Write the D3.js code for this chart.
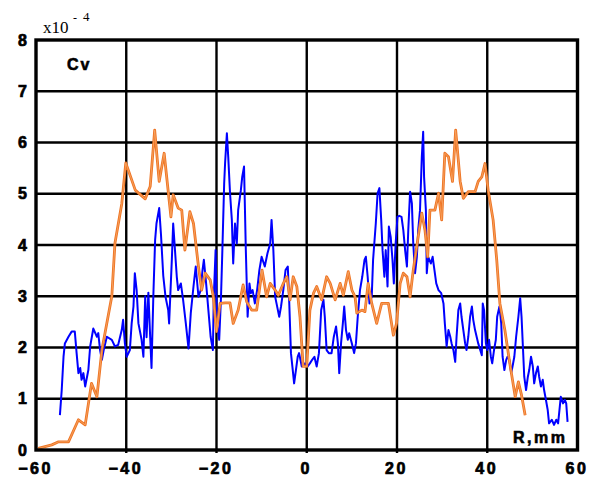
<!DOCTYPE html>
<html><head><meta charset="utf-8">
<script src="https://cdn.jsdelivr.net/npm/d3@7"></script>
<style>html,body{margin:0;padding:0;background:#fff;}svg{display:block;}</style>
</head><body>
<script>
// ---- data ----
const xTicks = [-60,-40,-20,0,20,40,60];
const yTicks = [0,1,2,3,4,5,6,7,8];

const blueR = [-54.7,-54.3,-53.9,-53.6,-52.8,-52.1,-51.4,-51.0,-50.6,-50.2,-49.9,-49.5,-49.1,-48.4,-48.0,-47.3,-46.5,-46.2,-45.8,-45.4,-45.0,-44.3,-43.2,-42.5,-41.8,-41.0,-40.7,-40.3,-39.9,-39.2,-38.8,-38.4,-38.1,-37.7,-37.3,-36.6,-36.2,-35.8,-35.5,-35.1,-34.7,-34.4,-34.0,-33.6,-33.3,-32.7,-32.3,-31.8,-31.3,-30.7,-30.5,-29.9,-29.6,-29.2,-28.8,-28.5,-27.9,-27.4,-26.8,-26.2,-25.7,-25.1,-24.6,-24.0,-23.5,-23.1,-22.8,-22.3,-21.8,-21.3,-20.8,-20.6,-20.2,-19.9,-19.4,-19.0,-18.7,-18.3,-18.1,-17.7,-17.4,-17.0,-16.6,-16.3,-15.9,-15.5,-15.2,-14.6,-14.3,-13.9,-13.5,-13.1,-12.7,-12.4,-12.0,-11.5,-11.0,-10.5,-10.0,-9.3,-8.7,-8.1,-7.8,-7.4,-7.0,-6.7,-6.1,-5.7,-5.2,-4.7,-4.2,-3.9,-3.5,-3.1,-2.8,-2.4,-2.0,-1.7,-1.1,-0.4,0.2,0.7,1.2,1.7,2.2,2.7,3.2,3.7,4.0,4.4,4.9,5.5,6.0,6.5,6.9,7.2,7.6,8.0,8.3,8.7,9.1,9.4,10.0,10.5,10.9,11.3,11.8,12.3,12.8,13.1,13.5,13.9,14.4,14.7,15.3,15.7,16.1,16.5,16.8,17.2,17.5,17.9,18.2,18.6,19.0,19.3,19.7,20.1,20.5,21.0,21.4,21.8,22.2,22.5,22.9,23.3,23.6,24.0,24.4,24.7,25.1,25.5,25.8,26.0,26.4,26.6,26.9,27.5,27.9,28.3,28.7,29.2,29.8,30.3,30.6,31.0,31.4,31.8,32.1,32.5,32.9,33.2,33.6,34.0,34.3,34.7,35.1,35.4,35.8,36.2,36.6,36.9,37.3,38.0,38.8,39.0,39.3,39.7,40.0,40.4,40.8,41.1,41.5,41.9,42.2,42.7,43.1,43.4,43.8,44.2,44.5,44.9,45.3,45.6,46.0,46.4,46.9,47.3,47.6,47.9,48.2,48.6,49.0,49.3,49.7,50.1,50.4,50.8,51.2,51.5,51.9,52.3,52.6,53.0,53.4,53.7,54.3,54.8,55.3,55.7,56.0,56.3,56.8,57.2,57.5,57.8];
const blueV = [0.68,1.17,1.82,2.08,2.21,2.31,2.31,1.89,1.5,1.6,1.37,1.5,1.24,1.56,2.02,2.37,2.21,2.28,1.95,1.76,1.95,2.21,2.15,2.02,2.05,2.34,2.54,2.08,1.82,1.95,2.47,2.8,3.45,3.12,2.47,2.15,1.82,3.0,2.2,3.07,2.21,1.6,3.0,4.1,4.42,4.72,4.2,3.4,2.99,2.73,2.47,3.71,4.42,3.9,3.38,3.12,3.25,2.93,2.47,1.98,2.67,3.19,3.58,2.99,3.12,3.51,3.71,3.25,2.73,2.21,1.95,2.99,3.9,2.47,2.15,2.99,3.9,5.2,5.59,6.18,5.72,5.01,4.49,3.64,4.42,4.03,4.68,5.07,5.33,5.53,3.9,2.6,3.25,3.06,3.12,2.86,3.12,3.51,3.77,3.58,3.84,4.03,4.49,3.9,2.99,2.86,2.6,2.8,3.12,3.51,3.58,2.93,1.89,1.56,1.3,1.56,1.82,1.89,1.63,1.69,1.63,1.69,1.76,1.82,1.63,1.89,2.73,2.93,2.6,1.95,1.89,1.89,2.21,2.41,2.08,1.5,2.08,2.47,2.8,2.34,2.15,2.28,2.08,1.89,2.08,2.6,3.12,3.38,3.71,3.77,3.38,2.86,2.99,3.71,4.42,5.01,5.11,4.49,3.9,3.38,3.9,3.19,4.36,4.16,3.71,3.25,4.03,4.55,4.57,4.55,4.29,3.9,3.58,4.29,5.04,4.81,4.03,3.45,3.77,4.29,4.68,5.72,6.21,5.33,4.68,3.45,3.77,3.64,3.77,3.51,3.25,3.12,3.06,2.86,2.47,2.02,2.34,2.21,2.08,1.95,1.72,2.21,2.73,2.86,2.6,2.34,2.08,1.95,2.21,2.6,2.8,2.54,2.34,2.08,1.85,2.86,2.73,2.08,1.95,2.15,1.82,1.69,1.95,2.15,2.6,2.8,2.47,1.82,1.56,1.76,1.82,1.76,1.5,1.63,1.82,2.21,2.6,2.96,2.6,2.02,1.43,1.17,1.43,1.56,1.82,1.63,1.3,1.5,1.63,1.43,1.24,1.37,1.17,0.98,0.78,0.52,0.59,0.49,0.59,0.52,0.78,1.04,0.91,0.98,0.91,0.55];

const orangeR = [-59.5,-56.5,-55.0,-52.8,-50.6,-49.1,-47.7,-46.5,-45.4,-43.2,-42.5,-41.0,-40.1,-38.0,-35.8,-34.7,-33.7,-32.7,-31.6,-30.1,-29.6,-28.5,-27.7,-27.0,-25.9,-25.1,-24.0,-23.3,-22.5,-21.4,-20.7,-20.0,-19.2,-18.1,-17.0,-16.3,-15.2,-14.1,-13.3,-12.2,-11.1,-10.7,-9.9,-8.9,-8.1,-7.0,-6.3,-5.2,-4.4,-3.7,-3.0,-2.2,-1.5,-0.8,0.0,0.7,1.5,2.2,3.3,4.4,5.2,6.3,7.4,8.1,9.2,10.0,10.7,11.1,12.2,12.9,13.6,14.4,15.5,16.6,18.1,19.2,19.9,20.7,21.4,22.2,22.9,23.6,24.7,25.5,26.2,26.8,27.3,28.4,29.2,29.9,30.6,31.4,32.3,33.0,34.0,34.7,35.8,37.3,38.0,38.8,39.5,40.2,41.3,42.1,42.8,43.9,45.0,46.2,46.9,47.6,48.4];
const orangeV = [0.03,0.1,0.16,0.16,0.59,0.49,1.3,1.04,1.95,3.0,4.04,4.8,5.6,5.07,4.9,5.14,6.24,5.24,5.79,4.55,4.98,4.72,4.68,3.9,4.65,4.42,3.58,3.12,3.45,3.32,2.99,2.31,2.86,2.87,2.87,2.47,2.73,3.22,2.89,2.73,2.73,2.99,3.51,2.99,3.25,3.12,3.02,3.25,3.38,2.93,3.38,3.19,2.6,1.63,1.63,2.73,3.06,3.19,2.93,3.38,3.25,2.93,3.25,3.02,3.48,3.12,2.99,2.67,2.73,2.70,3.25,2.86,2.47,2.86,2.86,2.24,2.47,3.25,3.45,3.38,2.99,3.51,4.16,4.62,4.29,3.77,4.68,4.68,5.01,4.49,5.79,5.72,5.24,6.24,5.24,4.91,5.04,5.04,5.24,5.33,5.59,5.07,4.49,3.71,2.86,2.34,1.69,1.04,1.33,1.07,0.68];

// ---- chart ----
const W = 590, H = 479;
const svg = d3.select("body").append("svg").attr("width", W).attr("height", H);
svg.append("rect").attr("width", W).attr("height", H).attr("fill", "#fff");

const x = d3.scaleLinear().domain([-60, 60]).range([36, 577.5]);
const y = d3.scaleLinear().domain([0, 8]).range([450, 40]);

// grid
const grid = svg.append("g");
grid.selectAll("line.v").data(xTicks.slice(1, -1)).join("line")
  .attr("x1", d => x(d)).attr("x2", d => x(d)).attr("y1", y(8)).attr("y2", y(0) + 3)
  .attr("stroke", "#000").attr("stroke-width", 2.4);
grid.selectAll("line.h").data(yTicks.slice(1, -1)).join("line")
  .attr("x1", x(-60)).attr("x2", x(60)).attr("y1", d => y(d)).attr("y2", d => y(d))
  .attr("stroke", "#000").attr("stroke-width", 2.4);

// axes labels (using d3 axes, then styling)
const fontTick = "'Liberation Sans', Arial, sans-serif";
const xAxis = svg.append("g").attr("transform", `translate(0,${y(0)})`)
  .call(d3.axisBottom(x).tickValues(xTicks).tickSize(0).tickPadding(13).tickFormat(d3.format("d")));
xAxis.select(".domain").remove();
xAxis.selectAll("text").attr("font-family", fontTick).attr("font-weight", "bold")
  .attr("font-size", 16).attr("fill", "#000").attr("stroke", "#000").attr("stroke-width", 0.7)
  .style("letter-spacing", "2.5px").attr("dx", "-1px");

const yAxis = svg.append("g").attr("transform", `translate(${x(-60)},0)`)
  .call(d3.axisLeft(y).tickValues(yTicks).tickSize(0).tickPadding(9).tickFormat(d3.format("d")));
yAxis.select(".domain").remove();
yAxis.selectAll("text").attr("font-family", fontTick).attr("font-weight", "bold")
  .attr("font-size", 16).attr("fill", "#000").attr("stroke", "#000").attr("stroke-width", 0.7);

// lines
const lineGen = d3.line().x(d => x(d[0])).y(d => y(d[1]));
const blueData = blueR.map((r, i) => [r, blueV[i]]);
const orangeData = orangeR.map((r, i) => [r, orangeV[i]]);

svg.append("path").datum(blueData).attr("d", lineGen)
  .attr("fill", "none").attr("stroke", "#0000ff").attr("stroke-width", 2)
  .attr("stroke-linejoin", "round");
svg.append("path").datum(orangeData).attr("d", lineGen)
  .attr("fill", "none").attr("stroke", "#ee7424").attr("stroke-width", 2.8)
  .attr("stroke-linejoin", "round");
svg.append("path").datum(orangeData).attr("d", lineGen)
  .attr("fill", "none").attr("stroke", "#f7a867").attr("stroke-width", 0.8)
  .attr("stroke-linejoin", "round");

// frame
svg.append("rect").attr("x", x(-60)).attr("y", y(8))
  .attr("width", x(60) - x(-60)).attr("height", y(0) - y(8))
  .attr("fill", "none").attr("stroke", "#000").attr("stroke-width", 3.4);

// texts
svg.append("text").attr("x", 67).attr("y", 70).text("Cv")
  .attr("font-family", fontTick).attr("font-weight", "bold").attr("font-size", 16)
  .attr("stroke", "#000").attr("stroke-width", 0.6)
  .style("letter-spacing", "2px");
svg.append("text").attr("x", 513).attr("y", 443).text("R,mm")
  .attr("font-family", fontTick).attr("font-weight", "bold").attr("font-size", 16)
  .attr("stroke", "#000").attr("stroke-width", 0.6)
  .style("letter-spacing", "2.5px");
const sci = svg.append("text").attr("font-family", "'Liberation Serif', 'Times New Roman', serif").attr("fill", "#000");
sci.append("tspan").attr("x", 43).attr("y", 33).attr("font-size", 17).text("x10");
sci.append("tspan").attr("x", 73).attr("y", 22).attr("font-size", 12).text("-");
sci.append("tspan").attr("x", 83).attr("y", 21).attr("font-size", 13).text("4");
</script>
</body></html>
